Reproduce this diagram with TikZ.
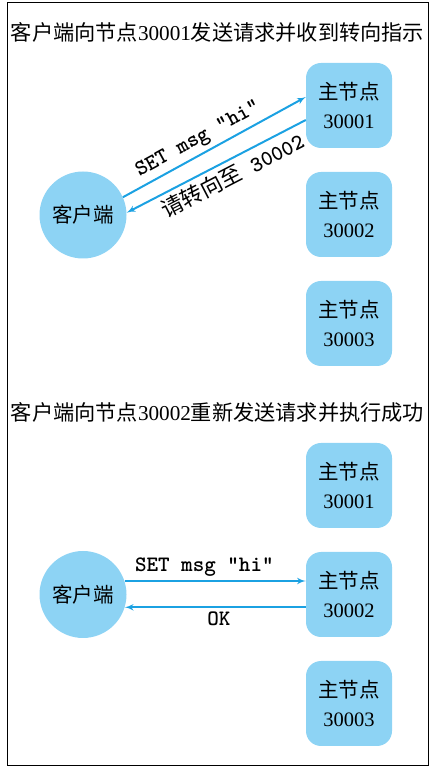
\documentclass[tikz,border=0pt]{standalone}
\usepackage{fontspec}
\setmainfont{Liberation Serif}
\newfontfamily\cjk{Noto Sans CJK SC}
\usetikzlibrary{arrows, positioning, shapes}
\definecolor{nodeblue}{RGB}{141,211,244}
\definecolor{lineblue}{RGB}{27,161,226}
\tikzstyle{master} = [rectangle, fill=nodeblue, rounded corners=15pt,
    minimum width=86pt, minimum height=85pt, inner sep=0pt, align=center,
    font=\fontsize{20.5}{29}\selectfont]
\tikzstyle{client} = [circle, fill=nodeblue, minimum size=87pt, inner sep=0pt,
    font=\fontsize{20.5}{29}\selectfont\cjk]
\tikzstyle{line} = [draw=lineblue, line width=2pt, -latex']
\tikzstyle{msg} = [font=\fontsize{22}{24}\selectfont\ttfamily\bfseries, inner sep=4pt]
\tikzstyle{caption} = [font=\fontsize{21.2}{26}\selectfont]

\begin{document}
\begin{tikzpicture}[x=1pt, y=1pt, node distance=109pt]
  \useasboundingbox (0,0) rectangle (437,769);
  \draw[line width=0.8pt] (7,4) rectangle (428,767);
  % Place nodes
  % Redirect
  \node[caption] (title1) at (217.5,737) {{\cjk 客户端向节点}30001{\cjk 发送请求并收到转向指示}};
  \node[client] (client1) at (83,554) {客户端};
  \node[master] (sn1) at (349,663.5) {{\cjk 主节点}\\30001};
  \node[master, below of=sn1] (sn2) {{\cjk 主节点}\\30002};
  \node[master, below of=sn2] (sn3) {{\cjk 主节点}\\30003};
  % Retry
  \node[caption] (title2) at (217.5,357) {{\cjk 客户端向节点}30002{\cjk 重新发送请求并执行成功}};
  \node[master] (bn1) at (349,283.5) {{\cjk 主节点}\\30001};
  \node[master, below of=bn1] (bn2) {{\cjk 主节点}\\30002};
  \node[master, below of=bn2] (bn3) {{\cjk 主节点}\\30003};
  \node[client] (client2) at (83,174.5) {客户端};

  % Draw edges
  \path [line] (client1.24) -- node[msg, sloped, above, pos=0.45] {SET msg "hi"} ([yshift=8.5pt]sn1.west);
  \path [line] ([yshift=-14.5pt]sn1.west) -- node[msg, sloped, below, pos=0.45] {{\cjk\mdseries 请转向至} 30002} (client1.3);

  \path [line] (client2.18) -- node[msg, above, pos=0.44] {SET msg "hi"} (client2.18 -| bn2.west);
  \path [line] (client2.-17 -| bn2.west) -- node[msg, below, pos=0.48] {OK} (client2.-17);
\end{tikzpicture}
\end{document}
